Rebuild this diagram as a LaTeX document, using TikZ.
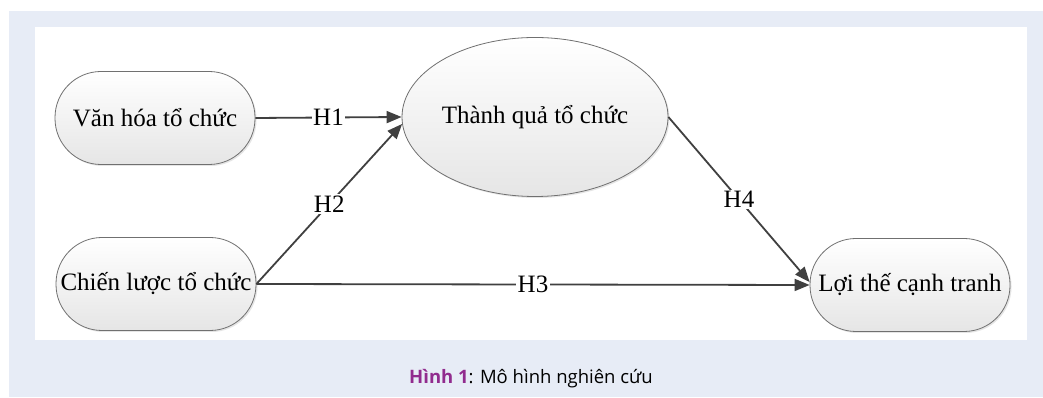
\documentclass[tikz,border=0pt]{standalone}
\usepackage{fontspec}
\setmainfont{Liberation Serif}
\newfontfamily\capfont{Open Sans}
\usetikzlibrary{shapes.geometric,arrows.meta,shadows,calc}
\definecolor{bgblue}{HTML}{E7ECF6}
\definecolor{edgegray}{HTML}{707070}
\definecolor{linegray}{HTML}{404040}
\definecolor{cappurple}{HTML}{912B8E}
\tikzset{
  box/.style={draw=edgegray, line width=0.8pt, top color=white, bottom color=black!10,
    rounded corners=46pt, minimum width=200pt, minimum height=93pt, inner sep=0pt,
    font=\fontsize{25}{29}\selectfont,
    drop shadow={shadow xshift=1.5pt, shadow yshift=-1.5pt, opacity=0.25, fill=black!40}},
  oval/.style={ellipse, draw=edgegray, line width=0.8pt, top color=white, bottom color=black!10,
    minimum width=266pt, minimum height=159pt, inner sep=0pt,
    font=\fontsize{25}{29}\selectfont,
    drop shadow={shadow xshift=1.5pt, shadow yshift=-1.5pt, opacity=0.25, fill=black!40}},
  conn/.style={draw=linegray, line width=1.8pt, -{Triangle[length=15pt,width=12pt]}},
  lab/.style={fill=white, inner sep=1.5pt, font=\fontsize{25}{29}\selectfont}
}
\begin{document}
\begin{tikzpicture}[x=1pt,y=1pt]
\useasboundingbox (0,0) rectangle (1043,398);
\fill[bgblue] (9,1) rectangle (1043,387);
\fill[white] (35,58) rectangle (1027,371);
\node[box] (vh) at (155,280) {Văn hóa tổ chức};
\node[box] (cl) at (156,114) {Chiến lược tổ chức};
\node[oval] (tq) at (535,281) {Thành quả tổ chức};
\node[box] (lt) at (910,113) {Lợi thế cạnh tranh};
\draw[conn] (vh.east) -- node[lab] {H1} (tq.west);
\draw[conn] (cl.east) -- node[lab] {H2} (tq.183);
\draw[conn] (cl.east) -- node[lab] {H3} (lt.west);
\draw[conn] (tq.east) -- node[lab] {H4} ($(lt.west)+(0,3)$);
\node[font=\capfont\fontsize{18.5}{22}\selectfont, anchor=base] (cap) at (531,14)
  {\textcolor{cappurple}{\bfseries Hình 1}: Mô hình nghiên cứu};
\end{tikzpicture}
\end{document}
